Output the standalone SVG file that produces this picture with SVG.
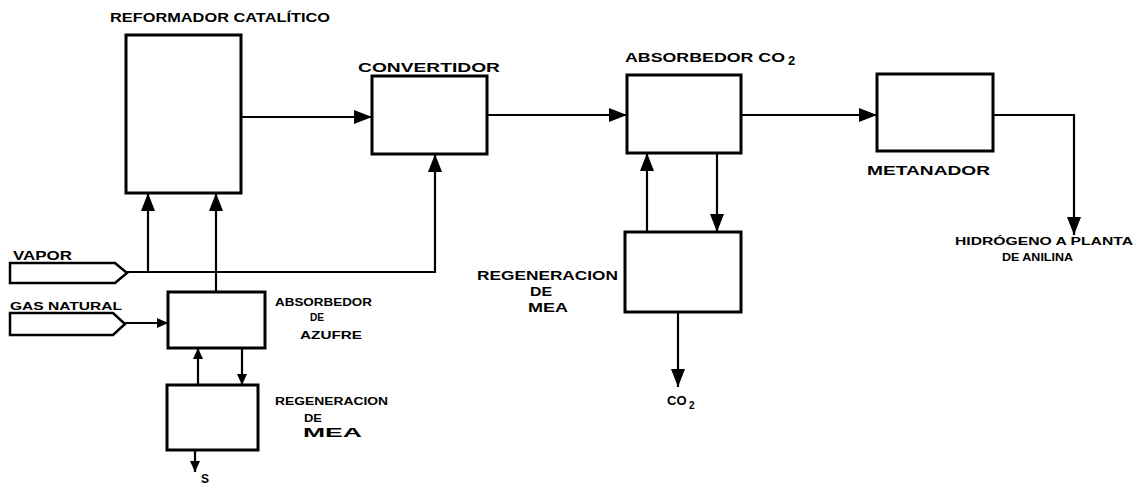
<svg xmlns="http://www.w3.org/2000/svg" width="1134" height="484" viewBox="0 0 1134 484">
<defs>
<style>
.box{fill:none;stroke:#000;stroke-width:3;stroke-linejoin:miter}
.feed{fill:none;stroke:#000;stroke-width:2.5;stroke-linejoin:miter}
.c{fill:none;stroke:#000;stroke-width:2.2}
text{font-family:"Liberation Sans",Arial,sans-serif;font-weight:bold;fill:#000}
.t{font-size:13px}
.s{font-size:10px}
.m{font-size:12px}
</style>
<marker id="big" markerUnits="userSpaceOnUse" markerWidth="18" markerHeight="14" refX="18" refY="7" orient="auto">
<path d="M0,0 L18,7 L0,14 Z" fill="#000"/>
</marker>
<marker id="sm" markerUnits="userSpaceOnUse" markerWidth="11" markerHeight="10" refX="11" refY="5" orient="auto">
<path d="M0,0 L11,5 L0,10 Z" fill="#000"/>
</marker>
</defs>
<rect width="1134" height="484" fill="#fff"/>

<g id="connectors">
<path class="c" d="M241,117 H372" marker-end="url(#big)"/>
<path class="c" d="M487,115 H627" marker-end="url(#big)"/>
<path class="c" d="M741,115 H877" marker-end="url(#big)"/>
<path class="c" d="M993,115 H1074 V235" marker-end="url(#big)"/>
<path class="c" d="M127,272 H435 V154" marker-end="url(#big)"/>
<path class="c" d="M148,272 V193" marker-end="url(#big)"/>
<path class="c" d="M216,292 V193" marker-end="url(#big)"/>
<path class="c" d="M125,323 H168" marker-end="url(#sm)"/>
<path class="c" d="M198,385 V348" marker-end="url(#sm)"/>
<path class="c" d="M242,348 V385" marker-end="url(#sm)"/>
<path class="c" d="M195,450 V472" marker-end="url(#sm)"/>
<path class="c" d="M647,232 V153" marker-end="url(#big)"/>
<path class="c" d="M717,153 V232" marker-end="url(#big)"/>
<path class="c" d="M678,312 V387" marker-end="url(#big)"/>
</g>

<g id="reformador">
<rect class="box" x="126" y="35" width="115" height="158"/>
<text class="t" x="110" y="22" textLength="220" lengthAdjust="spacingAndGlyphs">REFORMADOR CATALÍTICO</text>
</g>

<g id="convertidor">
<rect class="box" x="372" y="76" width="115" height="78"/>
<text class="t" x="358" y="72" textLength="142" lengthAdjust="spacingAndGlyphs">CONVERTIDOR</text>
</g>

<g id="absorbedor-co2">
<rect class="box" x="627" y="75" width="114" height="78"/>
<text class="t" x="625" y="62" textLength="160" lengthAdjust="spacingAndGlyphs">ABSORBEDOR CO</text>
<text class="t" x="788" y="65">2</text>
</g>

<g id="metanador">
<rect class="box" x="877" y="74" width="116" height="77"/>
<text class="t" x="867" y="175" textLength="123" lengthAdjust="spacingAndGlyphs">METANADOR</text>
</g>

<g id="regeneracion-mea-co2">
<rect class="box" x="625" y="232" width="116" height="80"/>
<text class="t" x="477" y="280" textLength="141" lengthAdjust="spacingAndGlyphs">REGENERACION</text>
<text class="t" x="530" y="296" textLength="22" lengthAdjust="spacingAndGlyphs">DE</text>
<text class="t" x="528" y="312" textLength="40" lengthAdjust="spacingAndGlyphs">MEA</text>
</g>

<g id="co2-out">
<text class="t" x="667" y="405">CO</text>
<text class="s" x="689" y="409">2</text>
</g>

<g id="hidrogeno">
<text class="s" x="955" y="245" textLength="178" lengthAdjust="spacingAndGlyphs">HIDRÓGENO A PLANTA</text>
<text class="s" x="1002" y="261" textLength="71" lengthAdjust="spacingAndGlyphs">DE ANILINA</text>
</g>

<g id="vapor">
<path class="feed" d="M10,263 H115 L127,273 L115,283 H10 Z"/>
<text class="m" x="13" y="260" textLength="59" lengthAdjust="spacingAndGlyphs">VAPOR</text>
</g>

<g id="gas-natural">
<path class="feed" d="M10,313 H113 L125,324 L113,335 H10 Z"/>
<text class="s" x="10" y="310" textLength="112" lengthAdjust="spacingAndGlyphs">GAS NATURAL</text>
</g>

<g id="absorbedor-azufre">
<rect class="box" x="168" y="292" width="97" height="56"/>
<text class="s" x="275" y="306" textLength="97" lengthAdjust="spacingAndGlyphs">ABSORBEDOR</text>
<text class="s" x="310" y="321" textLength="14" lengthAdjust="spacingAndGlyphs">DE</text>
<text class="s" x="300" y="339" textLength="62" lengthAdjust="spacingAndGlyphs">AZUFRE</text>
</g>

<g id="regeneracion-mea-s">
<rect class="box" x="167" y="385" width="91" height="65"/>
<text class="s" x="275" y="405" textLength="113" lengthAdjust="spacingAndGlyphs">REGENERACION</text>
<text class="s" x="304" y="422" textLength="18" lengthAdjust="spacingAndGlyphs">DE</text>
<text class="t" x="303" y="437" textLength="59" lengthAdjust="spacingAndGlyphs">MEA</text>
</g>

<g id="azufre-out">
<text class="m" x="201" y="483">S</text>
</g>
</svg>
